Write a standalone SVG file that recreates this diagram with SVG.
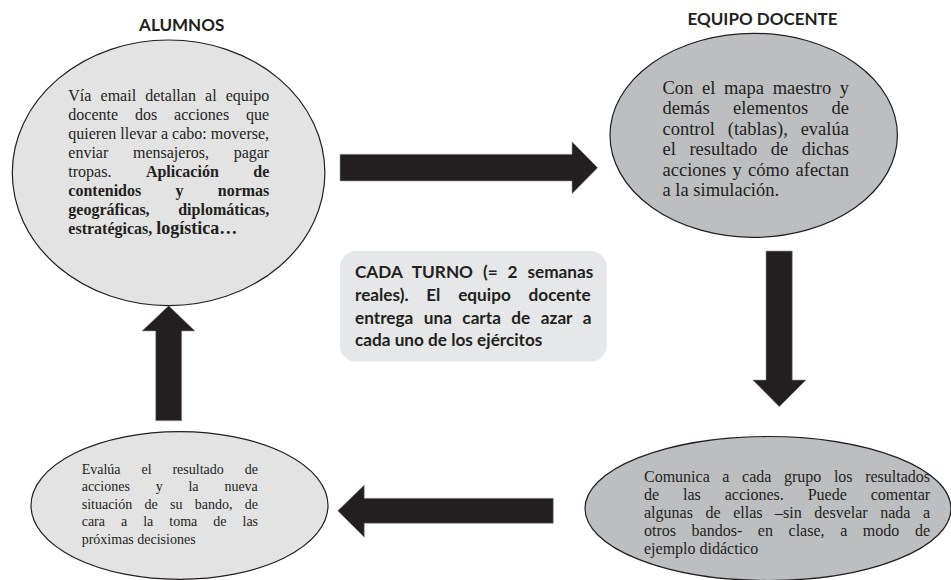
<svg xmlns="http://www.w3.org/2000/svg" width="951" height="580" viewBox="0 0 951 580">
<style>
.bg{fill:#ffffff}
.light{fill:#e3e3e4;stroke:#231f20;stroke-width:1.2}
.dark{fill:#bcbec0;stroke:#231f20;stroke-width:1.2}
.box{fill:#e6e7e8}
.arrow{fill:#231f20;stroke:#9a9a9a;stroke-width:0.6}
.title{font-family:Lato,"Liberation Sans",sans-serif;font-weight:bold;font-size:17px;fill:#231f20;text-anchor:middle}
.sans{font-family:Lato,"Liberation Sans",sans-serif;font-weight:bold;font-size:17.2px;fill:#231f20}
.serif{font-family:"Liberation Serif","Times New Roman",serif;fill:#231f20}
.b{font-weight:bold}
</style>
<rect class="bg" x="0" y="0" width="951" height="580"/>

<g id="title-alumnos"><text class="title" x="181.7" y="30.7">ALUMNOS</text></g>
<g id="title-equipo"><text class="title" x="762.5" y="25">EQUIPO DOCENTE</text></g>

<g id="connectors">
<polygon class="arrow" points="340,154.3 572,154.3 572,141.7 597.7,167.7 572,193.7 572,181 340,181"/>
<polygon class="arrow" points="766,251 792.3,251 792.3,380 806,380 779.3,406.7 752.7,380 766,380"/>
<polygon class="arrow" points="553.3,498.3 553.3,523.3 364.3,523.3 364.3,537.3 337.7,510.8 364.3,485 364.3,498.3"/>
<polygon class="arrow" points="155.7,420.7 155.7,331 142,331 168.7,305.7 195,331 181.7,331 181.7,420.7"/>
</g>

<g id="node-alumnos">
<ellipse class="light" cx="168.6" cy="172.8" rx="156.3" ry="132.8"/>
<g class="serif" font-size="16">
<text x="68.3" y="100.7" word-spacing="5.15">Vía email detallan al equipo</text>
<text x="68.3" y="119.8" word-spacing="12.9">docente dos acciones que</text>
<text x="68.3" y="138.9" word-spacing="0.1">quieren llevar a cabo: moverse,</text>
<text x="68.3" y="158" word-spacing="20.7">enviar mensajeros, pagar</text>
<text x="68.3" y="177.1" word-spacing="30.5">tropas. <tspan class="b">Aplicación de</tspan></text>
<text x="68.3" y="196.2" word-spacing="30.3" class="b">contenidos y normas</text>
<text x="68.3" y="215.3" word-spacing="24.6" class="b">geográficas, diplomáticas,</text>
<text x="68.3" y="234.4" class="b">estratégicas, <tspan font-size="18">logística…</tspan></text>
</g>
</g>

<g id="node-equipo">
<ellipse class="dark" cx="753.7" cy="135.3" rx="143.7" ry="102"/>
<g class="serif" font-size="18.5">
<text x="662.5" y="94" word-spacing="4.0">Con el mapa maestro y</text>
<text x="662.5" y="114.4" word-spacing="18.7">demás elementos de</text>
<text x="662.5" y="134.8" word-spacing="8.2">control (tablas), evalúa</text>
<text x="662.5" y="155.2" word-spacing="8.9">el resultado de dichas</text>
<text x="662.5" y="175.6" word-spacing="1.7">acciones y cómo afectan</text>
<text x="662.5" y="196">a la simulación.</text>
</g>
</g>

<g id="node-turno">
<rect class="box" x="340" y="251" width="266.7" height="110.7" rx="16" ry="16"/>
<text class="sans" x="355" y="278.3" word-spacing="5.75">CADA TURNO (= 2 semanas</text>
<text class="sans" x="355" y="301" word-spacing="13.6">reales). El equipo docente</text>
<text class="sans" x="355" y="323.7" word-spacing="6.3">entrega una carta de azar a</text>
<text class="sans" x="355" y="346.4">cada uno de los ejércitos</text>
</g>

<g id="node-comunica">
<ellipse class="dark" cx="768" cy="508.5" rx="183" ry="72"/>
<g class="serif" font-size="16">
<text x="644" y="481.7" word-spacing="8.6">Comunica a cada grupo los resultados</text>
<text x="644" y="499.7" word-spacing="19.9">de las acciones. Puede comentar</text>
<text x="644" y="517.7" word-spacing="8.6">algunas de ellas –sin desvelar nada a</text>
<text x="644" y="535.7" word-spacing="11.6">otros bandos- en clase, a modo de</text>
<text x="644" y="553.7">ejemplo didáctico</text>
</g>
</g>

<g id="node-evalua">
<ellipse class="light" cx="179.5" cy="505.5" rx="148.5" ry="73.8"/>
<g class="serif" font-size="14">
<text x="81.7" y="473.5" word-spacing="17.4">Evalúa el resultado de</text>
<text x="81.7" y="491" word-spacing="22.3">acciones y la nueva</text>
<text x="81.7" y="508.5" word-spacing="8.8">situación de su bando, de</text>
<text x="81.7" y="526" word-spacing="12.5">cara a la toma de las</text>
<text x="81.7" y="543.5">próximas decisiones</text>
</g>
</g>
</svg>
